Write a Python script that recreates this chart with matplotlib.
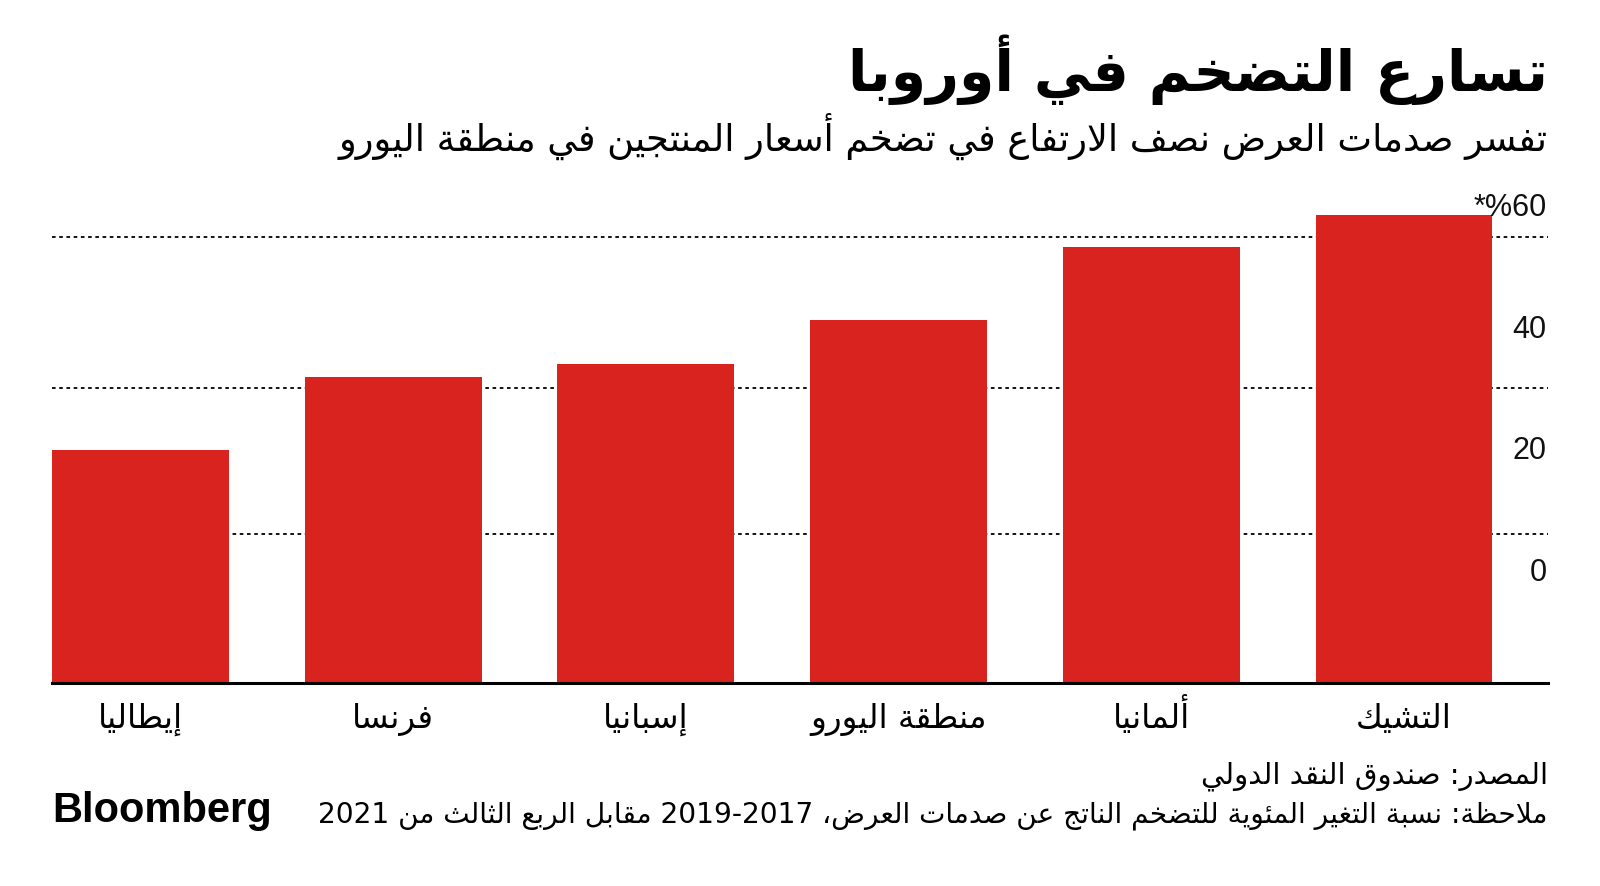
import re
import matplotlib
matplotlib.use("Agg")
import matplotlib.pyplot as plt

# ----------------------------------------------------------------------------
# DATA
# ----------------------------------------------------------------------------
COUNTRIES = ["إيطاليا", "فرنسا", "إسبانيا", "منطقة اليورو", "ألمانيا", "التشيك"]
VALUES    = [20.0, 32.1, 34.1, 41.5, 53.4, 58.8]
Y_TICKS   = [0, 20, 40, 60]
Y_LABELS  = ["0", "20", "40", "*%60"]
GRID_LEVELS = [6.2, 30.2, 55.1]      # duong ke cham (lech so voi nhan, giong ban goc)
Y_MIN, Y_MAX = -18.3, 63.0

TITLE    = "تسارع التضخم في أوروبا"
SUBTITLE = "تفسر صدمات العرض نصف الارتفاع في تضخم أسعار المنتجين في منطقة اليورو"
SOURCE   = "المصدر: صندوق النقد الدولي"
NOTE     = "ملاحظة: نسبة التغير المئوية للتضخم الناتج عن صدمات العرض، 2017-2019 مقابل الربع الثالث من 2021"

RED = "#d9231f"
ARABIC_FONT = ["DejaVu Sans"]
LATIN_FONT = ["Liberation Sans", "DejaVu Sans"]


# ----------------------------------------------------------------------------
# ARABIC SHAPING (matplotlib khong tu noi chu / dao chieu RTL)
# ----------------------------------------------------------------------------
ISO = dict(zip(
    "ءآأؤإئابةتثجحخدذرزسشصضطظعغفقكلمنهوىي",
    [0xFE80, 0xFE81, 0xFE83, 0xFE85, 0xFE87, 0xFE89, 0xFE8D, 0xFE8F, 0xFE93,
     0xFE95, 0xFE99, 0xFE9D, 0xFEA1, 0xFEA5, 0xFEA9, 0xFEAB, 0xFEAD, 0xFEAF,
     0xFEB1, 0xFEB5, 0xFEB9, 0xFEBD, 0xFEC1, 0xFEC5, 0xFEC9, 0xFECD, 0xFED1,
     0xFED5, 0xFED9, 0xFEDD, 0xFEE1, 0xFEE5, 0xFEE9, 0xFEED, 0xFEEF, 0xFEF1]))
DUAL = set("ئبتثجحخسشصضطظعغفقكلمنهي")
LAM_ALEF = {"آ": 0xFEF5, "أ": 0xFEF7, "إ": 0xFEF9, "ا": 0xFEFB}


def shape(s):
    out = []
    i = 0
    while i < len(s):
        c = s[i]
        if c not in ISO:
            out.append(c)
            i += 1
            continue
        prev = s[i - 1] if i > 0 else ""
        jp = prev in DUAL
        if c == "ل" and i + 1 < len(s) and s[i + 1] in LAM_ALEF:
            out.append(chr(LAM_ALEF[s[i + 1]] + (1 if jp else 0)))
            i += 2
            continue
        nxt = s[i + 1] if i + 1 < len(s) else ""
        jn = c in DUAL and nxt in ISO and nxt != "ء"
        base = ISO[c]
        if c == "ء":
            form = base
        elif jp and jn:
            form = base + 3
        elif jn:
            form = base + 2
        elif jp:
            form = base + 1
        else:
            form = base
        out.append(chr(form))
        i += 1
    return "".join(out)


def ar(s):
    """Tra ve chuoi theo thu tu hien thi (phai -> trai), giu so o dang LTR."""
    tokens = re.findall(r"[0-9]+|[^0-9]+", shape(s))
    return "".join(t if t[0].isdigit() else t[::-1] for t in reversed(tokens))


# ----------------------------------------------------------------------------
# PLOT
# ----------------------------------------------------------------------------
fig = plt.figure(figsize=(16, 8.87), dpi=100)
ax = fig.add_axes([0.0325, 0.2292, 0.935, 0.5566])

x = list(range(len(COUNTRIES)))
heights = [v - Y_MIN for v in VALUES]
ax.bar(x, heights, width=0.70, bottom=Y_MIN, color=RED, zorder=3)

for g in GRID_LEVELS:
    ax.axhline(g, color="black", lw=1.3, ls=(0, (2, 2)), zorder=1)

ax.set_xlim(-0.35, 5.57)
ax.set_ylim(Y_MIN, Y_MAX)
for s in ["top", "left", "right"]:
    ax.spines[s].set_visible(False)
ax.spines["bottom"].set_linewidth(2.2)
ax.spines["bottom"].set_zorder(4)

ax.set_yticks([])
for t, lab in zip(Y_TICKS, Y_LABELS):
    ax.text(0.999, t, lab, transform=ax.get_yaxis_transform(), ha="right",
            va="center", fontsize=22, family=LATIN_FONT, color="#111111")

ax.set_xticks(x)
ax.set_xticklabels([ar(c) for c in COUNTRIES], family=ARABIC_FONT, fontsize=23.5)
ax.tick_params(axis="x", length=0, pad=32)
for lbl in ax.get_xticklabels():
    lbl.set_va("baseline")

RIGHT = 0.9675
fig.text(RIGHT, 0.921, ar(TITLE), ha="right", va="center", fontsize=41,
         weight="bold", family=ARABIC_FONT)
fig.text(RIGHT, 0.846, ar(SUBTITLE), ha="right", va="center", fontsize=26.5,
         family=ARABIC_FONT)
fig.text(RIGHT, 0.125, ar(SOURCE), ha="right", va="center", fontsize=21,
         family=ARABIC_FONT)
fig.text(RIGHT, 0.080, ar(NOTE), ha="right", va="center", fontsize=20.2,
         family=ARABIC_FONT)
fig.text(0.0325, 0.086, "Bloomberg", ha="left", va="center", fontsize=30,
         weight="bold", family=LATIN_FONT)

fig.savefig("out.png", dpi=100)
plt.close(fig)
